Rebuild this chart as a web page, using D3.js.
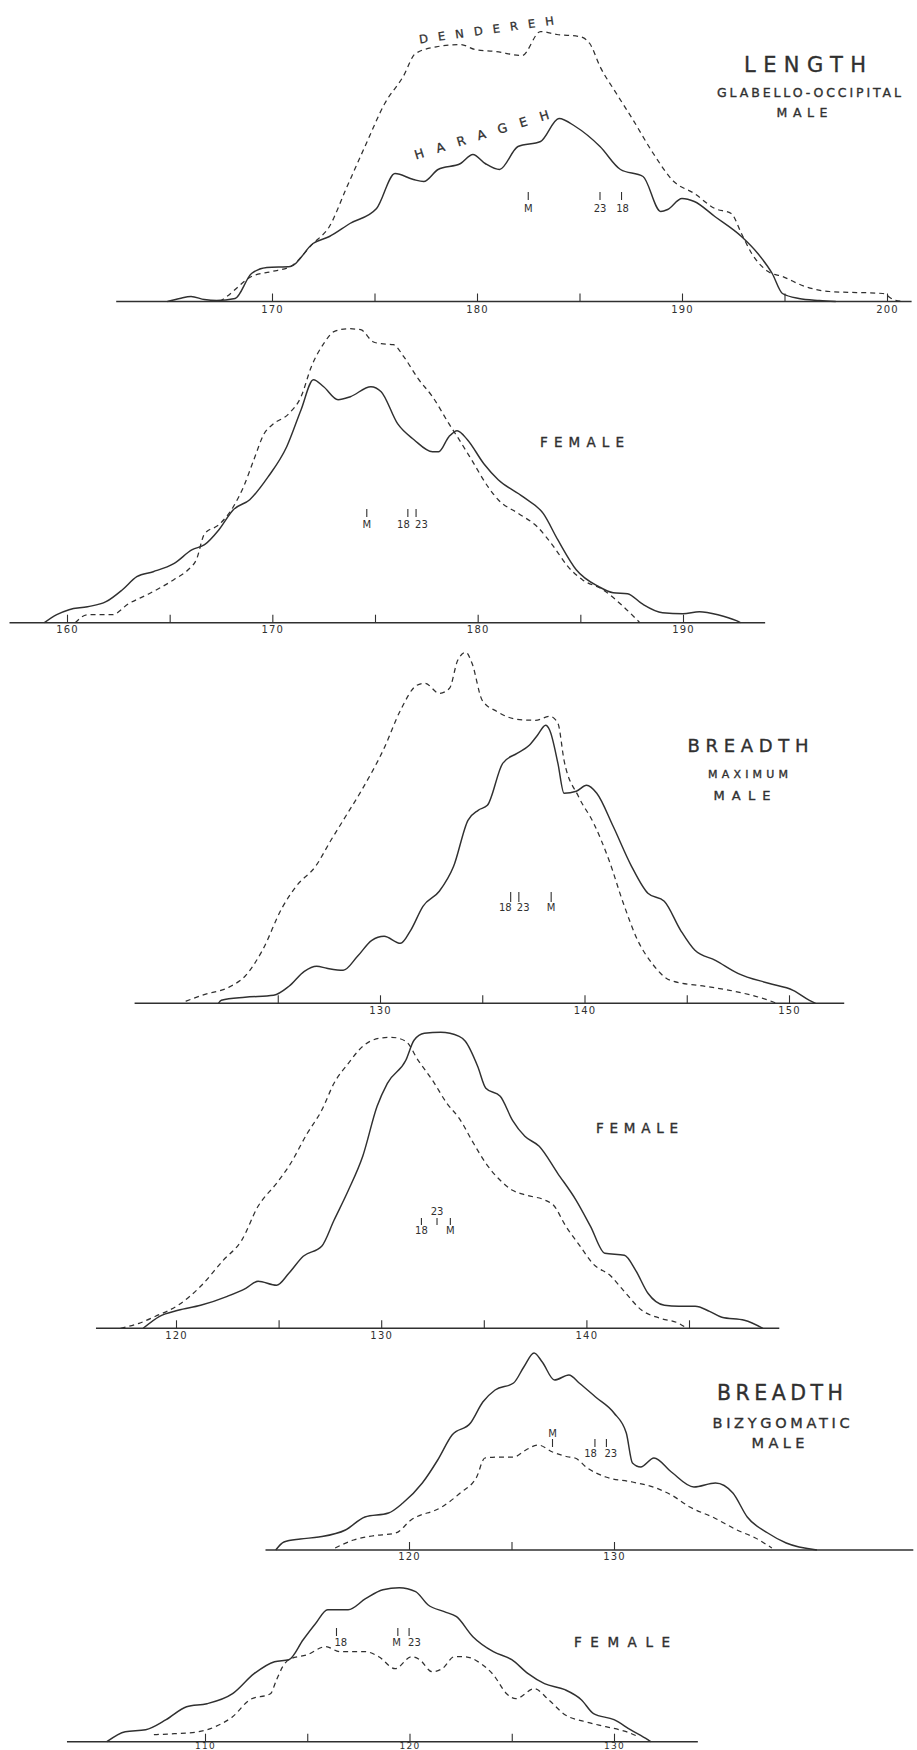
<!DOCTYPE html>
<html>
<head>
<meta charset="utf-8">
<script src="https://cdn.jsdelivr.net/npm/d3@7"></script>
<style>
  body { margin: 0; background: #fff; }
  svg { display: block; background: #fff; }
</style>
</head>
<body>
<svg id="chart" width="917" height="1750"></svg>
<script>
// Frequency curves of cranial measurements (mm) for two series:
// Harageh (solid) and Dendereh (dashed). Each point is [measurement, frequency].

// --- Length, glabello-occipital, male ---
const lengthMaleHarageh = [[164.9,0],[165.5,0.3],[166.05,0.5],[166.7,0.2],[167.3,0.1],[168.2,0.3],[169.0,2.8],[169.75,3.4],[170.9,3.5],[172.0,5.8],[172.8,6.5],[173.8,7.8],[175.1,9.3],[176.0,12.8],[176.9,12.2],[177.4,12.0],[178.1,13.2],[179.2,13.8],[179.8,14.7],[180.4,13.8],[181.1,13.2],[182.0,15.5],[183.1,16.0],[184.0,18.3],[184.8,17.5],[186.0,15.5],[187.0,13.2],[188.1,12.5],[188.96,9.0],[189.3,9.2],[190.0,10.3],[190.6,10.0],[191.6,8.5],[192.9,6.5],[193.7,4.8],[194.4,2.8],[194.9,0.8],[195.7,0.3],[196.7,0.1],[197.5,0]];
const lengthMaleDendereh = [[167.45,0],[167.8,0.5],[169.0,2.5],[170.0,3.0],[170.9,3.5],[172.0,5.8],[172.8,7.5],[173.6,11.2],[174.6,15.8],[175.5,19.8],[176.4,22.5],[177.0,24.8],[178.1,25.5],[179.2,25.7],[179.9,25.2],[180.9,25.0],[182.2,24.6],[183.1,27.0],[183.9,26.7],[185.0,26.5],[185.5,25.8],[186.0,23.5],[186.8,20.8],[187.6,18.2],[188.6,14.8],[189.6,12.0],[190.6,10.8],[191.6,9.3],[192.4,8.8],[192.9,6.8],[193.4,4.8],[194.2,3.0],[194.9,2.5],[196.0,1.5],[197.2,1.0],[199.8,0.8],[200.3,0.2],[200.8,0]];
const lengthMaleMeans = [["M",182.5],["23",186.0],["18",187.05]];
const lengthMaleTicks = [170,175,180,185,190,195,200];
const lengthMaleTickLabels = [170,180,190,200];

// --- Length, female ---
const lengthFemaleHarageh = [[158.9,0],[159.5,0.8],[160.1,1.3],[161.0,1.6],[161.9,2.1],[162.7,3.3],[163.4,4.6],[164.2,5.1],[165.2,5.9],[166.1,7.3],[166.7,7.8],[167.4,9.3],[168.1,11.3],[168.9,12.3],[169.8,14.6],[170.7,17.6],[171.4,21.3],[172.0,24.3],[172.5,23.6],[173.2,22.3],[173.8,22.6],[174.8,23.6],[175.3,23.1],[176.1,19.9],[176.9,18.3],[177.8,17.1],[178.1,17.1],[178.6,18.6],[179.0,19.2],[179.5,18.3],[180.3,15.9],[181.0,14.3],[182.2,12.6],[183.2,10.9],[183.9,8.3],[184.8,5.3],[185.9,3.6],[186.6,3.0],[187.3,2.9],[188.0,1.9],[189.0,1.0],[190.0,0.9],[190.8,1.1],[191.7,0.8],[192.6,0.2],[192.8,0]];
const lengthFemaleDendereh = [[160.4,0],[161.0,0.8],[162.2,0.8],[163.0,1.9],[164.0,2.9],[165.2,4.3],[165.9,5.3],[166.3,6.3],[166.7,8.9],[167.4,9.8],[168.1,11.6],[168.6,13.6],[169.1,16.3],[169.6,18.9],[170.0,19.8],[170.8,20.9],[171.4,22.6],[171.9,25.6],[172.5,27.9],[173.0,29.1],[173.7,29.4],[174.3,29.3],[174.9,28.1],[175.3,27.9],[175.9,27.8],[176.4,26.6],[177.1,24.4],[177.8,22.6],[178.6,19.9],[179.1,18.3],[179.7,16.3],[180.5,13.6],[181.0,12.3],[182.0,10.9],[182.9,9.6],[183.7,7.6],[184.4,5.6],[185.1,4.3],[186.1,3.3],[187.1,1.6],[187.9,0]];
const lengthFemaleMeans = [["M",174.6],["18",176.6],["23",177.0]];
const lengthFemaleTicks = [160,165,170,175,180,185,190];
const lengthFemaleTickLabels = [160,170,180,190];

// --- Breadth, maximum, male ---
const breadthMaleHarageh = [[122.1,0],[122.24,0.3],[123.4,0.6],[124.8,0.8],[125.55,1.7],[126.3,3.2],[126.9,3.7],[127.4,3.5],[128.2,3.3],[128.9,4.7],[129.6,6.3],[130.2,6.7],[131.0,6.0],[131.5,7.3],[132.1,9.7],[132.9,11.2],[133.6,13.7],[134.3,18.3],[134.8,19.3],[135.25,19.8],[136.0,24.0],[136.7,25.0],[137.3,25.8],[137.7,26.8],[138.1,27.8],[138.3,27.3],[138.7,24.0],[139.0,21.0],[139.6,21.2],[140.1,21.8],[140.6,21.0],[141.4,17.7],[142.3,13.7],[143.1,11.0],[143.9,10.2],[144.7,7.3],[145.4,5.3],[146.4,4.3],[147.5,3.0],[149.0,2.0],[150.2,1.3],[151.0,0.3],[151.3,0]];
const breadthMaleDendereh = [[120.5,0.2],[121.3,0.8],[122.7,1.7],[123.4,2.7],[124.25,5.3],[125.2,9.5],[125.9,11.7],[126.85,13.7],[127.6,16.3],[128.2,18.3],[129.1,21.3],[130.2,25.5],[131.0,29.3],[131.8,31.8],[132.2,32.0],[132.9,31.0],[133.4,31.5],[133.8,34.3],[134.2,35.1],[134.5,34.0],[135.0,30.3],[135.7,29.2],[136.7,28.4],[137.6,28.3],[138.3,28.7],[138.7,28.0],[139.0,24.3],[139.7,20.7],[140.45,18.0],[141.2,14.3],[141.9,10.0],[142.6,6.3],[143.3,4.0],[144.2,2.3],[145.9,1.7],[147.1,1.3],[149.0,0.3],[149.4,0]];
const breadthMaleMeans = [["18",136.39],["23",136.79],["M",138.37]];
const breadthMaleTicks = [125,130,135,140,145,150];
const breadthMaleTickLabels = [130,140,150];

// --- Breadth, maximum, female ---
const breadthFemaleHarageh = [[118.4,0],[119.2,1.2],[120.1,1.8],[121.2,2.3],[122.5,3.2],[123.4,4.0],[124.0,4.7],[124.9,4.3],[125.5,5.5],[126.2,7.2],[127.1,8.2],[127.7,10.8],[128.4,13.8],[129.1,17.2],[129.8,22.2],[130.3,24.5],[131.2,26.8],[131.6,28.8],[132.1,29.5],[132.9,29.6],[133.8,29.2],[134.1,28.7],[134.7,26.2],[135.1,24.0],[135.8,23.2],[136.4,20.8],[137.0,19.2],[137.7,18.2],[138.6,15.5],[139.5,12.8],[140.2,10.2],[140.9,7.5],[141.85,7.3],[142.4,5.8],[143.0,3.5],[143.8,2.3],[144.5,2.2],[145.3,2.2],[146.0,1.7],[146.6,1.1],[147.7,0.8],[148.6,0]];
const breadthFemaleDendereh = [[117.3,0],[118.2,0.5],[119.0,1.2],[120.1,2.3],[121.2,4.2],[122.3,6.8],[123.2,8.8],[124.0,12.2],[124.9,14.5],[125.5,16.2],[126.4,19.5],[127.1,21.8],[127.7,24.5],[128.4,26.5],[129.1,28.2],[129.9,29.0],[130.5,29.1],[131.2,28.7],[131.8,26.8],[132.5,24.8],[133.2,22.5],[133.8,21.0],[134.5,18.5],[135.1,16.5],[135.8,14.8],[136.4,13.8],[137.1,13.3],[138.0,12.8],[138.4,12.3],[139.0,10.2],[139.7,8.2],[140.3,6.5],[141.2,5.2],[141.8,3.8],[142.7,1.8],[143.6,1.0],[144.5,0.5],[144.9,0]];
const breadthFemaleMeans = [["18",131.96],["23",132.72],["M",133.37]];
const breadthFemaleTicks = [120,125,130,135,140,145];
const breadthFemaleTickLabels = [120,130,140];

// --- Breadth, bizygomatic, male ---
const bizygMaleHarageh = [[113.5,0],[113.9,0.8],[114.7,1.1],[115.6,1.3],[116.9,2.0],[117.85,3.3],[119.0,3.7],[119.7,4.7],[120.65,6.7],[121.4,9.0],[122.1,11.5],[123.0,12.7],[123.6,14.8],[124.2,16.0],[125.1,16.7],[125.6,18.3],[126.1,19.7],[126.5,18.8],[127.1,17.0],[127.8,17.5],[128.3,16.7],[129.1,15.3],[130.0,13.7],[130.6,11.7],[130.9,8.7],[131.3,8.3],[131.95,9.2],[132.8,7.8],[133.9,6.3],[134.95,6.7],[135.8,5.7],[136.5,3.3],[137.5,1.7],[138.4,0.7],[139.9,0]];
const bizygMaleDendereh = [[116.4,0.2],[117.3,1.0],[118.2,1.4],[119.35,1.7],[120.1,3.0],[121.6,4.3],[122.5,5.7],[123.3,7.3],[123.7,9.2],[124.4,9.3],[125.1,9.3],[125.7,10.0],[126.3,10.5],[127.0,9.8],[127.8,9.3],[128.1,9.2],[128.7,8.2],[129.6,7.3],[130.9,6.8],[132.05,6.2],[132.8,5.5],[133.7,4.3],[134.9,3.2],[136.0,2.0],[136.9,1.2],[137.7,0.2]];
const bizygMaleMeans = [["M",127.0],["18",129.07],["23",129.63]];
const bizygMaleTicks = [120,125,130];
const bizygMaleTickLabels = [120,130];

// --- Breadth, bizygomatic, female ---
const bizygFemaleHarageh = [[105.2,0],[106.1,1.0],[107.1,1.2],[108.1,2.2],[109.1,3.5],[110.1,3.8],[111.35,4.8],[112.4,6.8],[113.4,8.0],[114.1,8.2],[114.8,10.2],[115.4,11.8],[116.0,13.2],[117.0,13.2],[117.85,14.3],[118.7,15.2],[119.5,15.4],[120.3,15.0],[120.9,13.7],[121.7,13.0],[122.3,12.5],[123.1,10.5],[124.1,9.0],[125.0,8.2],[125.8,6.8],[126.6,5.8],[127.6,5.2],[128.4,4.2],[129.0,2.8],[130.0,2.2],[130.8,1.2],[131.65,0.2],[131.8,0]];
const bizygFemaleDendereh = [[107.5,0.7],[108.5,0.8],[109.7,1.0],[110.5,1.5],[111.35,2.5],[112.2,4.2],[113.2,4.8],[113.5,6.2],[113.8,7.5],[114.1,8.2],[115.0,8.7],[115.9,9.5],[116.6,9.0],[117.85,9.0],[118.5,8.5],[119.3,7.3],[120.1,8.5],[120.5,8.2],[121.1,7.0],[121.6,7.3],[122.2,8.5],[122.7,8.5],[123.5,7.8],[124.1,6.7],[124.75,4.8],[125.2,4.3],[126.1,5.3],[126.8,4.2],[127.6,2.7],[128.6,2.0],[129.6,1.5],[130.6,1.0],[131.2,0.5]];
const bizygFemaleMeans = [["18",116.43],["M",119.43],["23",119.98]];
const bizygFemaleTicks = [110,115,120,125,130];
const bizygFemaleTickLabels = [110,120,130];

// ---------------------------------------------------------------------------
// Layout of the six panels (screen geometry, not data)
const INK = "#303030";
const FONT = "'DejaVu Sans', sans-serif";
const PX_PER_UNIT = 10;   // vertical pixels per frequency unit

const panels = [
  { harageh: lengthMaleHarageh, dendereh: lengthMaleDendereh, means: lengthMaleMeans,
    ticks: lengthMaleTicks, tickLabels: lengthMaleTickLabels,
    domain: [170, 200], range: [272, 887], axisY: 301.5, axisExtent: [162.4, 201.2],
    labelSize: 10, labelY: 4,
    meanTick: [192, 200], meanBase: 212,
    meanStyle: { "M": ["middle", 0, "below"], "23": ["middle", 0, "below"], "18": ["middle", 1, "below"] },
    titles: [["LENGTH", 805, 72, 21, 122], ["GLABELLO-OCCIPITAL", 809, 97, 12.5, 184], ["MALE", 802, 117, 12.5, 51]] },
  { harageh: lengthFemaleHarageh, dendereh: lengthFemaleDendereh, means: lengthFemaleMeans,
    ticks: lengthFemaleTicks, tickLabels: lengthFemaleTickLabels,
    domain: [160, 190], range: [67, 683], axisY: 622.7, axisExtent: [157.2, 194.0],
    labelSize: 10, labelY: 3,
    meanTick: [509, 517], meanBase: 528,
    meanStyle: { "M": ["middle", 0, "below"], "18": ["end", 2, "below"], "23": ["start", -1, "below"] },
    titles: [["FEMALE", 582, 447, 13.5, 84]] },
  { harageh: breadthMaleHarageh, dendereh: breadthMaleDendereh, means: breadthMaleMeans,
    ticks: breadthMaleTicks, tickLabels: breadthMaleTickLabels,
    domain: [130, 150], range: [380, 789], axisY: 1003.3, axisExtent: [118.0, 152.7],
    labelSize: 10, labelY: 4,
    meanTick: [892, 902], meanBase: 911,
    meanStyle: { "18": ["end", 1, "below"], "23": ["start", -2, "below"], "M": ["middle", 0, "below"] },
    titles: [["BREADTH", 748, 752, 18, 121], ["MAXIMUM", 748, 778, 11, 80], ["MALE", 742, 800, 13, 57]] },
  { harageh: breadthFemaleHarageh, dendereh: breadthFemaleDendereh, means: breadthFemaleMeans,
    ticks: breadthFemaleTicks, tickLabels: breadthFemaleTickLabels,
    domain: [120, 145], range: [176, 689], axisY: 1328.3, axisExtent: [116.1, 149.4],
    labelSize: 10, labelY: 4,
    meanTick: [1218, 1225], meanBase: 1234, meanAboveBase: 1215,
    meanStyle: { "18": ["middle", 0, "below"], "23": ["middle", 0, "above"], "M": ["middle", 0, "below"] },
    titles: [["FEMALE", 637, 1133, 13.5, 82]] },
  { harageh: bizygMaleHarageh, dendereh: bizygMaleDendereh, means: bizygMaleMeans,
    ticks: bizygMaleTicks, tickLabels: bizygMaleTickLabels,
    domain: [120, 130], range: [409, 614], axisY: 1550, axisExtent: [113.0, 144.6],
    labelSize: 10, labelY: 3,
    meanTick: [1439, 1447], meanBase: 1457, meanAboveBase: 1437,
    meanStyle: { "M": ["middle", 0, "above"], "18": ["end", 2, "below"], "23": ["start", -2, "below"] },
    titles: [["BREADTH", 780, 1400, 20.5, 126], ["BIZYGOMATIC", 781, 1428, 14.5, 137], ["MALE", 778, 1448, 14.5, 53]] },
  { harageh: bizygFemaleHarageh, dendereh: bizygFemaleDendereh, means: bizygFemaleMeans,
    ticks: bizygFemaleTicks, tickLabels: bizygFemaleTickLabels,
    domain: [110, 130], range: [205, 614], axisY: 1741.7, axisExtent: [103.25, 134.1],
    labelSize: 9, labelY: 0.6,
    meanTick: [1628, 1636], meanBase: 1646,
    meanStyle: { "18": ["start", -2, "below"], "M": ["end", 3, "below"], "23": ["start", -1, "below"] },
    titles: [["FEMALE", 622, 1647, 13.5, 96]] }
];

const svg = d3.select("#chart");

panels.forEach(p => {
  const x = d3.scaleLinear().domain(p.domain).range(p.range);
  const y = d3.scaleLinear().domain([0, 1]).range([p.axisY, p.axisY - PX_PER_UNIT]);
  const g = svg.append("g");

  // baseline
  g.append("line")
    .attr("x1", x(p.axisExtent[0])).attr("x2", x(p.axisExtent[1]))
    .attr("y1", p.axisY).attr("y2", p.axisY)
    .attr("stroke", INK).attr("stroke-width", 1.4);

  // ticks pointing up, labels every ten below
  const axis = d3.axisBottom(x)
    .tickValues(p.ticks)
    .tickSizeInner(-8).tickSizeOuter(0).tickPadding(3)
    .tickFormat(d => p.tickLabels.includes(d) ? String(d) : "");
  const ag = g.append("g").attr("transform", `translate(0,${p.axisY})`).call(axis);
  ag.select(".domain").remove();
  ag.selectAll(".tick line").attr("stroke", INK).attr("stroke-width", 1.1);
  ag.selectAll(".tick text")
    .attr("fill", INK).attr("font-family", FONT).attr("font-size", p.labelSize)
    .attr("letter-spacing", 1.2).attr("y", p.labelY);

  const line = d3.line()
    .x(d => x(d[0])).y(d => y(d[1]))
    .curve(d3.curveMonotoneX);

  g.append("path").datum(p.dendereh)
    .attr("d", line).attr("fill", "none")
    .attr("stroke", INK).attr("stroke-width", 1.25)
    .attr("stroke-dasharray", "5,4");

  g.append("path").datum(p.harageh)
    .attr("d", line).attr("fill", "none")
    .attr("stroke", INK).attr("stroke-width", 1.45);

  // mean markers of the series
  p.means.forEach(([label, v]) => {
    const [anchor, dx, where] = p.meanStyle[label];
    const mx = x(v);
    g.append("line")
      .attr("x1", mx).attr("x2", mx)
      .attr("y1", p.meanTick[0]).attr("y2", p.meanTick[1])
      .attr("stroke", INK).attr("stroke-width", 1.1);
    g.append("text")
      .attr("x", mx + dx)
      .attr("y", where === "above" ? p.meanAboveBase : p.meanBase)
      .attr("text-anchor", anchor)
      .attr("font-family", FONT).attr("font-size", 10)
      .attr("fill", INK)
      .text(label);
  });

  // panel headings
  p.titles.forEach(([txt, cx, base, size, width]) => {
    g.append("text")
      .attr("x", cx - width / 2).attr("y", base)
      .attr("font-family", FONT).attr("font-size", size)
      .attr("fill", INK).attr("stroke", INK).attr("stroke-width", 0.35)
      .attr("textLength", width).attr("lengthAdjust", "spacing")
      .text(txt);
  });
});

// series names written along the curves of the first panel
const seriesNames = [["DENDEREH", 487, 34, -8, 11.5, 136], ["HARAGEH", 483, 139, -17, 12.5, 140]];
seriesNames.forEach(([txt, cx, cy, angle, size, width]) => {
  svg.append("text")
    .attr("transform", `translate(${cx},${cy}) rotate(${angle})`)
    .attr("x", -width / 2).attr("y", 0)
    .attr("font-family", FONT).attr("font-size", size)
    .attr("fill", INK).attr("stroke", INK).attr("stroke-width", 0.3)
    .attr("textLength", width).attr("lengthAdjust", "spacing")
    .text(txt);
});
</script>
</body>
</html>
